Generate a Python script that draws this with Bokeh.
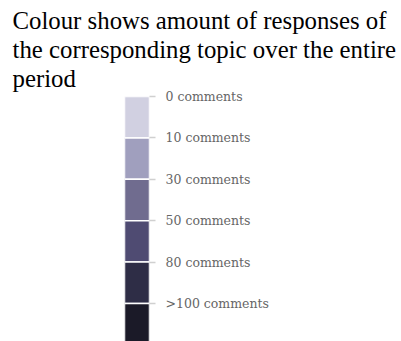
from bokeh.plotting import figure
from bokeh.models import LinearAxis, FixedTicker, Range1d, Title, ColumnDataSource
from bokeh.embed import file_html
from bokeh.resources import INLINE

# Data
levels = ["0 comments", "10 comments", "30 comments", "50 comments", "80 comments", ">100 comments"]
colours = ["#d1d0e1", "#a09fbe", "#706c8f", "#4f4b72", "#2e2d46", "#1b1a28"]
title_text = "Colour shows amount of responses of\nthe corresponding topic over the entire\nperiod"

idx = list(range(len(levels)))
src = ColumnDataSource(dict(top=idx, bottom=[i + 1 for i in idx], color=colours, label=levels))

p = figure(width=401, height=341, output_backend="svg", toolbar_location=None,
           x_axis_type=None, y_axis_type=None,
           x_range=Range1d(0, 1), y_range=Range1d(5.92, 0),
           min_border_left=124, min_border_right=252, min_border_top=91, min_border_bottom=0)
p.outline_line_color = None
p.grid.visible = False
p.background_fill_color = "white"
p.border_fill_color = "white"

p.quad(left=0, right=1, top="top", bottom="bottom", fill_color="color",
       line_color="white", line_width=1.5, source=src)

ax = LinearAxis(ticker=FixedTicker(ticks=idx),
                major_label_overrides={i: levels[i] for i in idx})
ax.axis_line_color = None
ax.major_tick_line_color = "#d0d0d0"
ax.major_tick_line_width = 1.5
ax.major_tick_out = 6
ax.major_tick_in = 0
ax.minor_tick_line_color = None
ax.major_label_standoff = 10
ax.major_label_text_font = "DejaVu Serif"
ax.major_label_text_font_size = "12.5px"
ax.major_label_text_color = "#666666"
p.add_layout(ax, "right")

p.title = Title(text=title_text, align="left", offset=-112, standoff=9,
                text_font="Liberation Serif", text_font_size="24.8px",
                text_font_style="normal", text_color="black", text_line_height=1.07)

open("out.html", "w").write(file_html(p, INLINE))
